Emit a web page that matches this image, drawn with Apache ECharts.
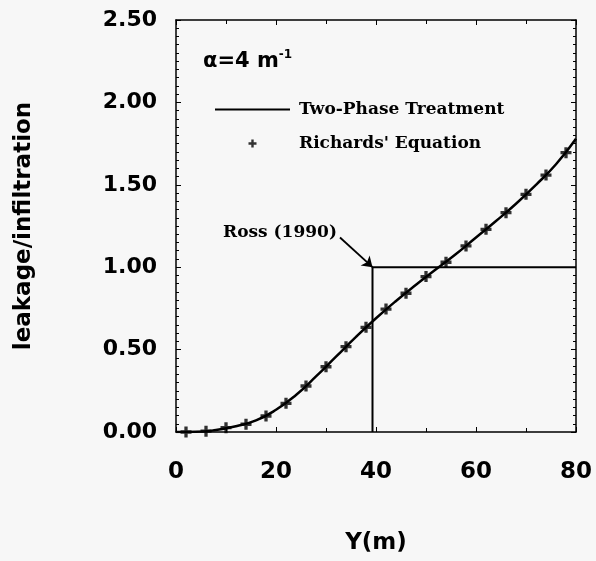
<!DOCTYPE html>
<html>
<head>
<meta charset="utf-8">
<script src="https://cdn.jsdelivr.net/npm/echarts@6/dist/echarts.min.js"></script>
<style>
  html, body { margin: 0; padding: 0; background: #f7f7f7; }
  #chart { width: 596px; height: 561px; }
</style>
</head>
<body>
<div id="chart"></div>
<script>
// two-phase treatment curve
const lineX = [0, 4, 8, 12, 16, 20, 24, 28, 32, 36, 40, 44, 48, 52, 56, 60, 64, 68, 72, 76, 80];
const lineY = [0, 0.001, 0.012, 0.035, 0.07, 0.135, 0.225, 0.337, 0.457, 0.577, 0.69, 0.795, 0.893, 0.987, 1.08, 1.18, 1.28, 1.385, 1.5, 1.625, 1.78];

// Richards' equation points
const richX = [2, 6, 10, 14, 18, 22, 26, 30, 34, 38, 42, 46, 50, 54, 58, 62, 66, 70, 74, 78];
const richY = [0.0, 0.005, 0.026, 0.047, 0.097, 0.174, 0.279, 0.396, 0.518, 0.635, 0.746, 0.842, 0.943, 1.03, 1.129, 1.23, 1.331, 1.442, 1.559, 1.695];

// Ross (1990) reference
const rossX = [39.3, 39.3, 80];
const rossY = [0, 1, 1];

const xTicks = ['0', '20', '40', '60', '80'];
const yTicks = ['0.00', '0.50', '1.00', '1.50', '2.00', '2.50'];

const plusPath = 'path://M3.5,0H6.5V3.5H10V6.5H6.5V10H3.5V6.5H0V3.5H3.5Z';
const sans = 'DejaVu Sans';
const serif = 'DejaVu Serif';

const chart = echarts.init(document.getElementById('chart'));

function boxAxis(extra) {
  return Object.assign({
    axisLine: { show: true, onZero: false, lineStyle: { color: '#000', width: 1.5 } },
    axisTick: { show: true, inside: true, length: 5, lineStyle: { color: '#000' } },
    splitLine: { show: false }
  }, extra);
}

chart.setOption({
  backgroundColor: '#f7f7f7',
  animation: false,
  title: {
    text: '{a|α=4 m}{s|-1}',
    left: 198,
    top: 44,
    textStyle: {
      rich: {
        a: { fontFamily: sans, fontWeight: 'bold', fontSize: 21, color: '#000', lineHeight: 26 },
        s: { fontFamily: sans, fontWeight: 'bold', fontSize: 12, color: '#000', verticalAlign: 'top', lineHeight: 24 }
      }
    }
  },
  legend: {
    orient: 'vertical',
    left: 210,
    top: 96,
    itemWidth: 75,
    itemHeight: 8,
    itemGap: 17,
    textStyle: { fontFamily: serif, fontWeight: 'bold', fontSize: 17, color: '#000', padding: [0, 0, 0, 4] },
    data: [
      { name: 'Two-Phase Treatment', icon: 'path://M0,0H75V2H0Z' },
      { name: "Richards' Equation", icon: plusPath }
    ]
  },
  grid: { left: 176, right: 20, top: 20, bottom: 129, outerBoundsMode: 'none' },
  xAxis: [
    boxAxis({
      type: 'value', min: 0, max: 80, interval: 20,
      minorTick: { show: true, splitNumber: 2, length: 4, lineStyle: { color: '#000' } },
      name: 'Y(m)', nameLocation: 'middle', nameGap: 100,
      nameTextStyle: { fontFamily: sans, fontWeight: 'bold', fontSize: 23, color: '#000' },
      axisLabel: {
        margin: 29, fontFamily: sans, fontWeight: 'bold', fontSize: 23, color: '#000',
        formatter: v => xTicks[Math.round(v / 20)]
      }
    }),
    boxAxis({
      type: 'value', min: 0, max: 80, interval: 20, position: 'top',
      minorTick: { show: true, splitNumber: 2, length: 4, lineStyle: { color: '#000' } },
      axisLabel: { show: false }
    })
  ],
  yAxis: [
    boxAxis({
      type: 'value', min: 0, max: 2.5, interval: 0.5,
      minorTick: { show: true, splitNumber: 10, length: 3, lineStyle: { color: '#000' } },
      name: 'leakage/infiltration', nameLocation: 'middle', nameGap: 140,
      nameTextStyle: { fontFamily: sans, fontWeight: 'bold', fontSize: 23, color: '#000' },
      axisLabel: {
        margin: 19, fontFamily: sans, fontWeight: 'bold', fontSize: 22, color: '#000',
        formatter: v => yTicks[Math.round(v / 0.5)]
      }
    }),
    boxAxis({
      type: 'value', min: 0, max: 2.5, interval: 0.5, position: 'right',
      minorTick: { show: true, splitNumber: 10, length: 3, lineStyle: { color: '#000' } },
      axisLabel: { show: false }
    })
  ],
  series: [
    {
      name: 'Two-Phase Treatment',
      type: 'line',
      smooth: true,
      showSymbol: false,
      lineStyle: { color: '#000', width: 2.5 },
      itemStyle: { color: '#000' },
      data: lineX.map((x, i) => [x, lineY[i]]),
      z: 3
    },
    {
      name: "Richards' Equation",
      type: 'scatter',
      symbol: plusPath,
      symbolSize: 11,
      itemStyle: { color: '#000' },
      data: richX.map((x, i) => [x, richY[i]]),
      z: 4
    },
    {
      name: 'Ross (1990)',
      type: 'line',
      showSymbol: false,
      lineStyle: { color: '#000', width: 2 },
      data: rossX.map((x, i) => [x, rossY[i]]),
      markLine: {
        silent: true,
        symbol: ['none', 'arrow'],
        symbolSize: 10,
        label: { show: false },
        lineStyle: { color: '#000', width: 1.8, type: 'solid' },
        data: [[{ coord: [32.8, 1.18] }, { coord: [39.3, 1.0] }]]
      },
      markPoint: {
        silent: true,
        symbol: 'circle',
        symbolSize: 0,
        label: {
          show: true, position: 'inside', formatter: 'Ross (1990)',
          fontFamily: serif, fontWeight: 'bold', fontSize: 17, color: '#000'
        },
        data: [{ coord: [20.8, 1.21] }]
      }
    }
  ]
});
</script>
</body>
</html>
